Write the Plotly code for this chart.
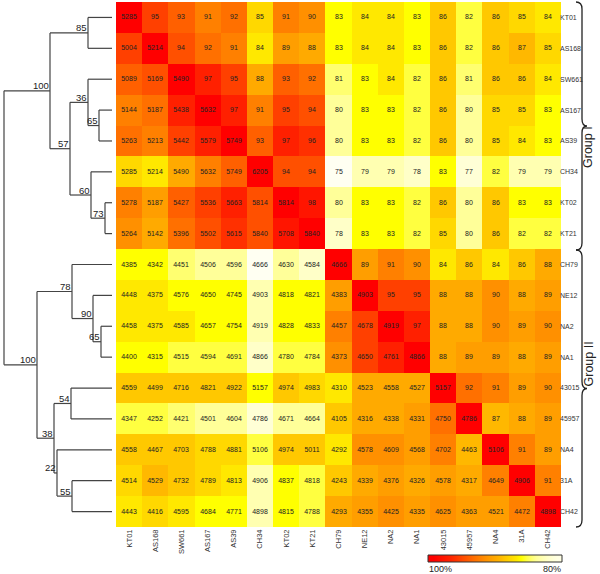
import plotly.graph_objects as go

labels = ["KT01", "AS168", "SW661", "AS167", "AS39", "CH34", "KT02", "KT21",
          "CH79", "NE12", "NA2", "NA1", "43015", "45957", "NA4", "31A", "CH42"]

# lower triangle incl. diagonal (row i, columns 0..i)
counts = [
    [5285],
    [5004, 5214],
    [5089, 5169, 5490],
    [5144, 5187, 5438, 5632],
    [5263, 5213, 5442, 5579, 5749],
    [5285, 5214, 5490, 5632, 5749, 6205],
    [5278, 5187, 5427, 5536, 5663, 5814, 5814],
    [5264, 5142, 5396, 5502, 5615, 5840, 5708, 5840],
    [4385, 4342, 4451, 4506, 4596, 4666, 4630, 4584, 4666],
    [4448, 4375, 4576, 4650, 4745, 4903, 4818, 4821, 4383, 4903],
    [4458, 4375, 4585, 4657, 4754, 4919, 4828, 4833, 4457, 4678, 4919],
    [4400, 4315, 4515, 4594, 4691, 4866, 4780, 4784, 4373, 4650, 4761, 4866],
    [4559, 4499, 4716, 4821, 4922, 5157, 4974, 4983, 4310, 4523, 4558, 4527, 5157],
    [4347, 4252, 4421, 4501, 4604, 4786, 4671, 4664, 4105, 4316, 4338, 4331, 4750, 4786],
    [4558, 4467, 4703, 4788, 4881, 5106, 4974, 5011, 4292, 4578, 4609, 4568, 4702, 4463, 5106],
    [4514, 4529, 4732, 4789, 4813, 4906, 4837, 4818, 4243, 4339, 4376, 4326, 4578, 4317, 4649, 4906],
    [4443, 4416, 4595, 4684, 4771, 4898, 4815, 4788, 4293, 4355, 4425, 4335, 4625, 4363, 4521, 4472, 4898],
]

# upper triangle percentages (row i, columns i+1..16)
pct = [
    [95, 93, 91, 92, 85, 91, 90, 83, 84, 84, 83, 86, 82, 86, 85, 84],
    [94, 92, 91, 84, 89, 88, 83, 84, 84, 83, 86, 82, 86, 87, 85],
    [97, 95, 88, 93, 92, 81, 83, 84, 82, 86, 81, 86, 86, 84],
    [97, 91, 95, 94, 80, 83, 83, 82, 86, 80, 85, 85, 83],
    [93, 97, 96, 80, 83, 83, 82, 86, 80, 85, 84, 83],
    [94, 94, 75, 79, 79, 78, 83, 77, 82, 79, 79],
    [98, 80, 83, 83, 82, 86, 80, 86, 83, 83],
    [78, 83, 83, 82, 85, 80, 86, 82, 82],
    [89, 91, 90, 84, 86, 84, 86, 88],
    [95, 95, 88, 88, 90, 88, 89],
    [97, 88, 88, 90, 89, 90],
    [88, 89, 89, 88, 89],
    [92, 91, 89, 90],
    [87, 88, 89],
    [91, 89],
    [91],
    [],
]
diag_pct = 100

# dendrogram merges: (name, child_a, child_b, height from leaf tips, bootstrap label)
merges = [
    ("n85", "KT01", "AS168", 24, "85"),
    ("n65a", "AS167", "AS39", 13, "65"),
    ("n36", "SW661", "n65a", 24, "36"),
    ("n73", "KT02", "KT21", 7, "73"),
    ("n60", "CH34", "n73", 21, "60"),
    ("n57", "n36", "n60", 42, "57"),
    ("n100a", "n85", "n57", 62, "100"),
    ("n65b", "NA2", "NA1", 11, "65"),
    ("n90", "NE12", "n65b", 19, "90"),
    ("n78", "CH79", "n90", 40, "78"),
    ("n54", "43015", "45957", 41, "54"),
    ("n55", "31A", "CH42", 40, "55"),
    ("n22", "NA4", "n55", 55, "22"),
    ("n38", "n54", "n22", 58, "38"),
    ("n100b", "n78", "n38", 75, "100"),
    ("root", "n100a", "n100b", 108, ""),
]

legend_levels = [100, 98, 96, 94, 92, 90, 88, 86, 84, 82, 80, 78, 76]

# ---------- build matrices ----------
n = len(labels)
z = [[0] * n for _ in range(n)]
txt = [[""] * n for _ in range(n)]
for i in range(n):
    for j, v in enumerate(counts[i]):
        txt[i][j] = str(v)
    for k, p in enumerate(pct[i]):
        j = i + 1 + k
        txt[i][j] = str(p)
        z[i][j] = p
        z[j][i] = p
    z[i][i] = diag_pct

W, H = 600, 574
FONT = "Liberation Sans, Arial, sans-serif"

cs_pts = [(75, "#FFFFF2"), (78, "#FFFFC8"), (80, "#FFFF99"), (81, "#FFFF70"),
          (82, "#FFFF40"), (83, "#FFFF00"), (84, "#FFE800"), (85, "#FFD800"),
          (86, "#FFC800"), (87, "#FFB800"), (88, "#FFAA00"), (89, "#FF9E00"),
          (90, "#FF9000"), (91, "#FF8000"), (92, "#FF7000"), (93, "#FF6000"),
          (94, "#FF5000"), (95, "#FF4000"), (97, "#FF2000"), (100, "#FF0000")]
zmin, zmax = 75, 100
colorscale = [[(v - zmin) / (zmax - zmin), c] for v, c in cs_pts]

fig = go.Figure()
fig.add_trace(go.Heatmap(
    z=z, x=list(range(n)), y=list(range(n)), text=txt, texttemplate="%{text}",
    textfont=dict(size=7, color="#222222", family=FONT),
    colorscale=colorscale, zmin=zmin, zmax=zmax, showscale=False,
    hoverinfo="skip", xaxis="x", yaxis="y"))

# ---------- dendrogram ----------
pos = {lab: (0.0, float(i)) for i, lab in enumerate(labels)}
lx, ly = [], []
ann = []
for name, a, b, h, lab in merges:
    ha, ya = pos[a]
    hb, yb = pos[b]
    ym = (ya + yb) / 2
    lx += [ha, h, None, hb, h, None, h, h, None]
    ly += [ya, ya, None, yb, yb, None, ya, yb, None]
    pos[name] = (h, ym)
    if lab:
        ann.append(dict(x=h, y=ym, xref="x2", yref="y", text=lab, showarrow=False,
                        xanchor="right", yanchor="middle", xshift=1, yshift=5,
                        font=dict(size=9.5, color="#222222", family=FONT)))
fig.add_trace(go.Scatter(x=lx, y=ly, mode="lines", xaxis="x2", yaxis="y",
                         line=dict(color="#444444", width=1.2), hoverinfo="skip",
                         showlegend=False, cliponaxis=False))

# ---------- colour key ----------
fig.add_trace(go.Heatmap(z=[legend_levels], x=list(range(len(legend_levels))), y=[0],
                         colorscale=colorscale, zmin=zmin, zmax=zmax, showscale=False,
                         zsmooth="best", hoverinfo="skip", xaxis="x3", yaxis="y3"))

def px(x):
    return x / W

def py(y):
    return 1 - y / H

hm_x0, hm_x1, hm_y0, hm_y1 = 116, 561, 2, 527
kb_x0, kb_x1, kb_y0, kb_y1 = 428, 562, 555, 562

fig.update_layout(
    width=W, height=H, margin=dict(l=0, r=0, t=0, b=0),
    paper_bgcolor="white", plot_bgcolor="white", showlegend=False,
    font=dict(family=FONT),
    xaxis=dict(domain=[px(hm_x0), px(hm_x1)], range=[-0.5, n - 0.5],
               tickvals=list(range(n)), ticktext=labels, tickangle=-90,
               tickfont=dict(size=7.5, color="#333333", family=FONT),
               showgrid=False, zeroline=False, ticks="", showline=False, anchor="y"),
    yaxis=dict(domain=[py(hm_y1), py(hm_y0)], range=[n - 0.5, -0.5], side="right",
               tickvals=list(range(n)), ticktext=labels, ticklabelstandoff=-2,
               tickfont=dict(size=7, color="#333333", family=FONT),
               showgrid=False, zeroline=False, ticks="", showline=False, anchor="x"),
    xaxis2=dict(domain=[0, px(112)], range=[112, 0], visible=False, anchor="y"),
    xaxis3=dict(domain=[px(kb_x0), px(kb_x1)], range=[-0.5, len(legend_levels) - 0.5],
                visible=False, anchor="y3"),
    yaxis3=dict(domain=[py(kb_y1), py(kb_y0)], range=[-0.5, 0.5], visible=False, anchor="x3"),
)

# ---------- braces ----------
def brace(y0, y1, xa=576, xv=582, xc=587, r=7):
    ym = (y0 + y1) / 2
    p = lambda x, y: f"{px(x):.5f},{py(y):.5f}"
    return (f"M {p(xa, y0)} Q {p(xv, y0)} {p(xv, y0 + r)} L {p(xv, ym - r)} "
            f"Q {p(xv, ym)} {p(xc, ym)} Q {p(xv, ym)} {p(xv, ym + r)} "
            f"L {p(xv, y1 - r)} Q {p(xv, y1)} {p(xa, y1)}")

shapes = [
    dict(type="path", path=brace(2, 250), xref="paper", yref="paper",
         line=dict(color="#222222", width=1.3)),
    dict(type="path", path=brace(250, 527), xref="paper", yref="paper",
         line=dict(color="#222222", width=1.3)),
    dict(type="rect", xref="paper", yref="paper", x0=px(kb_x0), x1=px(kb_x1),
         y0=py(kb_y1), y1=py(kb_y0), line=dict(color="#333333", width=1)),
]

ann += [
    dict(x=px(596), y=py(125), xref="paper", yref="paper", text="Group I", textangle=-90,
         showarrow=False, borderpad=0, font=dict(size=12.5, color="#222222", family=FONT)),
    dict(x=px(596), y=py(388), xref="paper", yref="paper", text="Group II", textangle=-90,
         showarrow=False, borderpad=0, font=dict(size=12.5, color="#222222", family=FONT)),
    dict(x=px(kb_x0), y=py(kb_y1 + 0.5), xref="paper", yref="paper", text="100%",
         xanchor="left", yanchor="top", showarrow=False, borderpad=0,
         font=dict(size=9, color="#222222", family=FONT)),
    dict(x=px(kb_x1), y=py(kb_y1 + 0.5), xref="paper", yref="paper", text="80%",
         xanchor="right", yanchor="top", showarrow=False, borderpad=0,
         font=dict(size=9, color="#222222", family=FONT)),
]
fig.update_layout(shapes=shapes, annotations=ann)

fig.write_html("out.html", config={"displayModeBar": False},
               post_script="document.body.style.margin='0px';"
                           "document.body.style.overflow='hidden';")
